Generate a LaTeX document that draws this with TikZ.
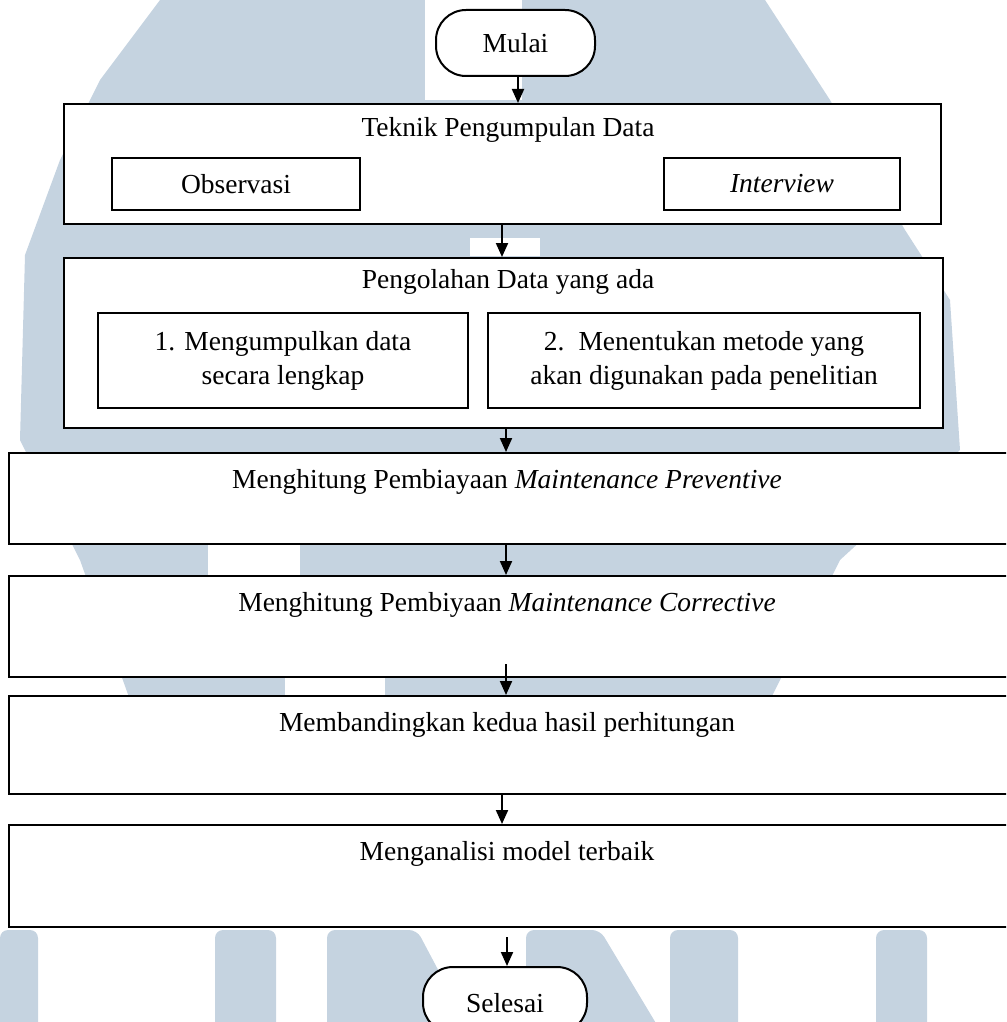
\documentclass[tikz,border=0pt]{standalone}
\usepackage{fontspec}
\setmainfont{Liberation Serif}
\usetikzlibrary{arrows.meta,calc}
\definecolor{wm}{RGB}{197,211,224}
\begin{document}
\begin{tikzpicture}[x=1pt,y=-1pt,
  box/.style={draw,line width=2pt,fill=white,inner sep=0pt},
  term/.style={draw,line width=2pt,fill=white,rounded corners=30pt,inner sep=0pt},
  txt/.style={inner sep=0pt,font=\fontsize{27.5}{34}\selectfont},
  arr/.style={line width=2pt,-{Triangle[width=12pt,length=14pt]}}]
\useasboundingbox (0,0) rectangle (1006,1022);
\clip (0,0) rectangle (1006,1022);
% watermark (approximate)
\fill[wm] (250,0) -- (765,0) -- (830,100) -- (905,230) -- (950,300) -- (960,450) -- (840,560) -- (770,700) -- (130,700) -- (80,560) -- (20,440) -- (25,255) -- (60,160) -- (100,80) -- (160,0) -- cycle;
\fill[white] (425,0) rectangle (522,100);
\fill[white] (470,238) rectangle (540,256);
\fill[white] (208,543) rectangle (300,575);
\fill[white] (285,676) rectangle (385,695);
\fill[wm,rounded corners=8pt] (0,930) rectangle (38,1030);
\fill[wm,rounded corners=8pt] (215,930) rectangle (276,1030);
\fill[wm,rounded corners=8pt] (327,930) -- (417,930) -- (470,1030) -- (327,1030) -- cycle;
\fill[wm,rounded corners=8pt] (526,930) -- (600,930) -- (660,1030) -- (526,1030) -- cycle;
\fill[wm,rounded corners=8pt] (670,930) rectangle (738,1030);
\fill[wm,rounded corners=8pt] (876,930) rectangle (927,1030);
% flow
\node[term,txt,minimum width=159pt,minimum height=66pt] (mulai) at (515.5,43) {Mulai};
\node[box,minimum width=877pt,minimum height=120pt,anchor=north west] (b1) at (63,103) {};
\node[txt] (t1) at (508,130) {Teknik Pengumpulan Data};
\node[box,txt,minimum width=248pt,minimum height=52pt,anchor=north west] (obs) at (111,157) {Observasi};
\node[box,txt,minimum width=236pt,minimum height=52pt,anchor=north west] (intv) at (663,157) {\itshape Interview};
\node[box,minimum width=879pt,minimum height=170pt,anchor=north west] (b2) at (63,257) {};
\node[txt] (t2) at (508,282) {Pengolahan Data yang ada};
\node[box,txt,align=center,minimum width=370pt,minimum height=95pt,anchor=north west] (in1) at (97,312) {1. Mengumpulkan data\\secara lengkap};
\node[box,txt,align=center,minimum width=432pt,minimum height=95pt,anchor=north west] (in2) at (487,312) {2.\hspace{14pt}Menentukan metode yang\\akan digunakan pada penelitian};
\node[box,minimum width=1010pt,minimum height=91pt,anchor=north west] (b3) at (8,452) {};
\node[txt] (t3) at (507,482) {Menghitung Pembiayaan \textit{Maintenance Preventive}};
\node[box,minimum width=1010pt,minimum height=101pt,anchor=north west] (b4) at (8,575) {};
\node[txt] (t4) at (507,605) {Menghitung Pembiyaan \textit{Maintenance Corrective}};
\node[box,minimum width=1010pt,minimum height=98pt,anchor=north west] (b5) at (8,695) {};
\node[txt] (t5) at (507,725) {Membandingkan kedua hasil perhitungan};
\node[box,minimum width=1010pt,minimum height=102pt,anchor=north west] (b6) at (8,824) {};
\node[txt] (t6) at (507,854) {Menganalisi model terbaik};
\node[term,minimum width=164pt,minimum height=66pt] (sel) at (505,1000) {};
\node[txt] (tsel) at (505,1003) {Selesai};
% connectors
\coordinate (x1) at (518,0);
\coordinate (x2) at (502,0);
\coordinate (x3) at (506,0);
\coordinate (x4) at (506,0);
\coordinate (x5) at (506,0);
\coordinate (x6) at (502,0);
\coordinate (x7) at (507,0);
\draw[arr] (mulai.south -| x1) -- (b1.north -| x1);
\draw[arr] (b1.south -| x2) -- (b2.north -| x2);
\draw[arr] (b2.south -| x3) -- (b3.north -| x3);
\draw[arr] (b3.south -| x4) -- (b4.north -| x4);
\draw[arr] ($(b4.south -| x5)+(0,-14)$) -- (b5.north -| x5);
\draw[arr] (b5.south -| x6) -- (b6.north -| x6);
\draw[arr] ($(b6.south -| x7)+(0,9)$) -- (sel.north -| x7);
\end{tikzpicture}
\end{document}
